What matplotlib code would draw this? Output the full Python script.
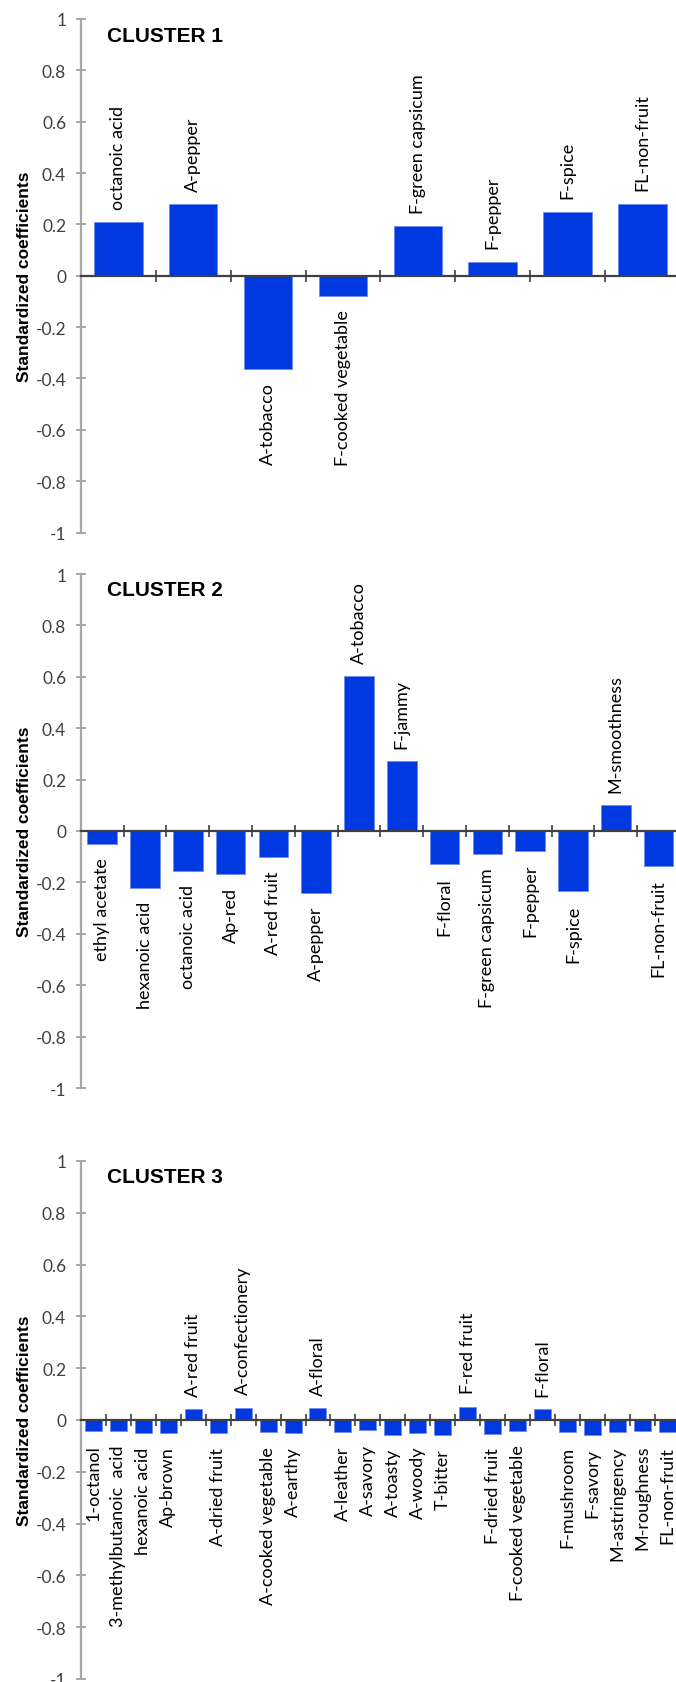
import matplotlib
matplotlib.use("Agg")
import matplotlib.pyplot as plt
import numpy as np

# values
cluster1_labels = ["octanoic acid", "A-pepper", "A-tobacco", "F-cooked vegetable",
                   "F-green capsicum", "F-pepper", "F-spice", "FL-non-fruit"]
cluster1_values = [0.21, 0.28, -0.362, -0.08, 0.194, 0.055, 0.25, 0.281]

cluster2_labels = ["ethyl acetate", "hexanoic acid", "octanoic acid", "Ap-red", "A-red fruit",
                   "A-pepper", "A-tobacco", "F-jammy", "F-floral", "F-green capsicum",
                   "F-pepper", "F-spice", "M-smoothness", "FL-non-fruit"]
cluster2_values = [-0.05, -0.222, -0.156, -0.166, -0.102, -0.24, 0.604, 0.271,
                   -0.13, -0.09, -0.077, -0.235, 0.102, -0.137]

cluster3_labels = ["1-octanol", "3-methylbutanoic  acid", "hexanoic acid", "Ap-brown",
                   "A-red fruit", "A-dried fruit", "A-confectionery", "A-cooked vegetable",
                   "A-earthy", "A-floral", "A-leather", "A-savory", "A-toasty", "A-woody",
                   "T-bitter", "F-red fruit", "F-dried fruit", "F-cooked vegetable",
                   "F-floral", "F-mushroom", "F-savory", "M-astringency", "M-roughness",
                   "FL-non-fruit"]
cluster3_values = [-0.044, -0.044, -0.052, -0.052, 0.043, -0.052, 0.048, -0.048,
                   -0.052, 0.047, -0.048, -0.04, -0.058, -0.049, -0.058, 0.052,
                   -0.053, -0.044, 0.042, -0.048, -0.058, -0.048, -0.044, -0.048]

titles = ["CLUSTER 1", "CLUSTER 2", "CLUSTER 3"]
yticks = [1, 0.8, 0.6, 0.4, 0.2, 0, -0.2, -0.4, -0.6, -0.8, -1]
ytick_labels = ["1", "0.8", "0.6", "0.4", "0.2", "0", "-0.2", "-0.4", "-0.6", "-0.8", "-1"]

W, H = 676, 1683
fig = plt.figure(figsize=(W / 100, H / 100), dpi=100)

BLUE = "#0039e0"
# (top px, bottom px, bar width)
panels = [
    (20, 533.5, 0.65, cluster1_labels, cluster1_values),
    (575, 1089, 0.69, cluster2_labels, cluster2_values),
    (1162, 1680, 0.68, cluster3_labels, cluster3_values),
]

x_left, x_right = 80.8, 680

for k, (top, bot, bw, labels, values) in enumerate(panels):
    ax = fig.add_axes([x_left / W, 1 - bot / H, (x_right - x_left) / W, (bot - top) / H])
    n = len(values)
    x = np.arange(n) + 0.5
    ax.bar(x, values, width=bw, color=BLUE, edgecolor="#6f8cf0", linewidth=0.6, zorder=2)
    ax.set_xlim(0, n)
    ax.set_ylim(-1, 1)

    # zero line with crossing category ticks
    ax.spines["bottom"].set_position(("data", 0))
    ax.spines["bottom"].set_color("#404040")
    ax.spines["bottom"].set_linewidth(1.6)
    ax.spines["bottom"].set_zorder(3)
    ax.spines["top"].set_visible(False)
    ax.spines["right"].set_visible(False)
    ax.spines["left"].set_color("#a6a6a6")
    ax.spines["left"].set_linewidth(1.6)
    ax.set_xticks(np.arange(1, n + 1))
    ax.set_xticklabels([])
    ax.tick_params(axis="x", direction="inout", length=8, width=1.2, color="#404040")

    ax.set_yticks(yticks)
    ax.set_yticklabels(ytick_labels, family="Lato", fontsize=12.5, color="#404040")
    ax.tick_params(axis="y", direction="inout", length=7, width=1.4, color="#a6a6a6", pad=7)

    ax.set_ylabel("Standardized coefficients", family="Liberation Sans", fontweight="bold",
                  fontsize=12.5)
    ax.yaxis.set_label_coords(-0.082, 0.5)

    ax.text(0.044, 1 - 16 / (bot - top), titles[k], transform=ax.transAxes,
            family="Liberation Sans", fontweight="bold", fontsize=15, va="center",
            ha="left")

    for xi, v, lab in zip(x, values, labels):
        if v >= 0:
            ax.annotate(lab, (xi, v), xytext=(0, 9.5), textcoords="offset points",
                        rotation=90, ha="center", va="bottom", family="Lato", fontsize=13)
        else:
            ax.annotate(lab, (xi, v), xytext=(0, -9.5), textcoords="offset points",
                        rotation=90, ha="center", va="top", family="Lato", fontsize=13)

fig.savefig("out.png", dpi=100)
